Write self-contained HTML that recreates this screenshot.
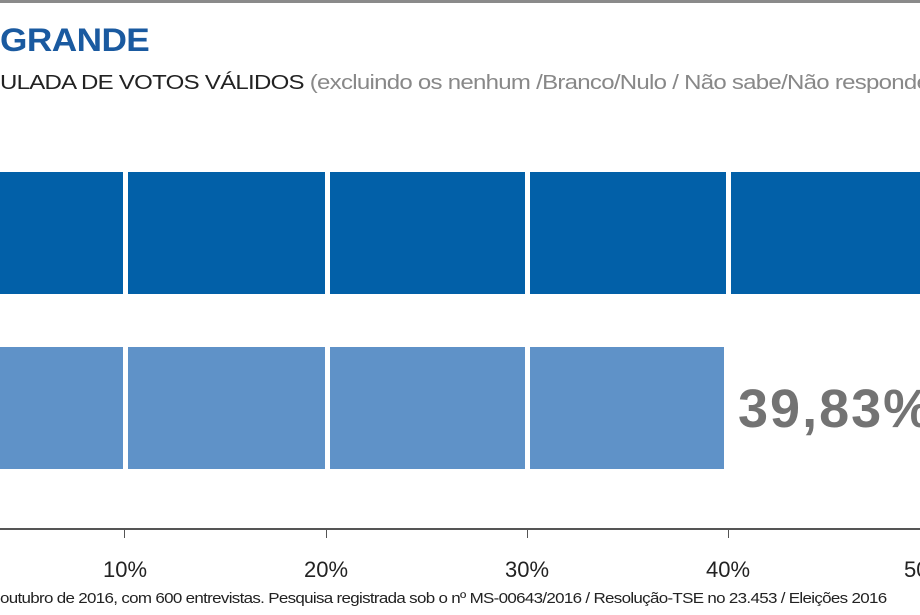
<!DOCTYPE html>
<html><head><meta charset="utf-8"><style>
body{margin:0;width:920px;height:615px;overflow:hidden;background:#fff;position:relative;font-family:"Liberation Sans",sans-serif}
div{position:absolute}
.seg{background:#fff;width:5px}
</style></head><body>
<div style="left:0;top:0;width:920px;height:3px;background:#8a8a8a"></div>
<div style="left:0;top:22px;font-size:32px;font-weight:bold;color:#1a5aa0;letter-spacing:-0.5px;transform:scaleX(1.1);transform-origin:left">GRANDE</div>
<div style="left:0;top:72px;font-size:20px;white-space:nowrap;letter-spacing:-0.6px;transform:scaleX(1.2);transform-origin:left;color:#222">ULADA DE VOTOS VÁLIDOS <span style="color:#888">(excluindo os nenhum /Branco/Nulo / Não sabe/Não respondeu)</span></div>
<div style="left:0;top:172px;width:920px;height:122px;background:#0260a8"></div>
<div style="left:0;top:347px;width:724px;height:122px;background:#5f92c8"></div>
<div class="seg" style="left:123px;top:172px;height:297px;width:5px"></div>
<div class="seg" style="left:325px;top:172px;height:297px"></div>
<div class="seg" style="left:525px;top:172px;height:297px"></div>
<div class="seg" style="left:726px;top:172px;height:122px"></div>
<div style="left:0;top:294px;width:920px;height:53px;background:#fff"></div>
<div style="left:738px;top:378px;font-size:54px;font-weight:bold;color:#737373;white-space:nowrap;letter-spacing:2px">39,83%</div>
<div style="left:0;top:528px;width:920px;height:2px;background:#555"></div>
<div style="left:124px;top:528px;width:1px;height:10px;background:#555"></div>
<div style="left:326px;top:528px;width:1px;height:10px;background:#555"></div>
<div style="left:527px;top:528px;width:1px;height:10px;background:#555"></div>
<div style="left:728px;top:528px;width:1px;height:10px;background:#555"></div>
<div style="left:100px;top:557px;width:50px;text-align:center;font-size:22px;color:#222">10%</div>
<div style="left:301px;top:557px;width:50px;text-align:center;font-size:22px;color:#222">20%</div>
<div style="left:502px;top:557px;width:50px;text-align:center;font-size:22px;color:#222">30%</div>
<div style="left:703px;top:557px;width:50px;text-align:center;font-size:22px;color:#222">40%</div>
<div style="left:904px;top:557px;width:50px;font-size:22px;color:#222">50%</div>
<div style="left:0;top:590px;font-size:15px;white-space:nowrap;color:#222;letter-spacing:-0.6px;transform:scaleX(1.13);transform-origin:left">outubro de 2016, com 600 entrevistas. Pesquisa registrada sob o nº MS-00643/2016 / Resolução-TSE no 23.453 / Eleições 2016</div>
</body></html>
